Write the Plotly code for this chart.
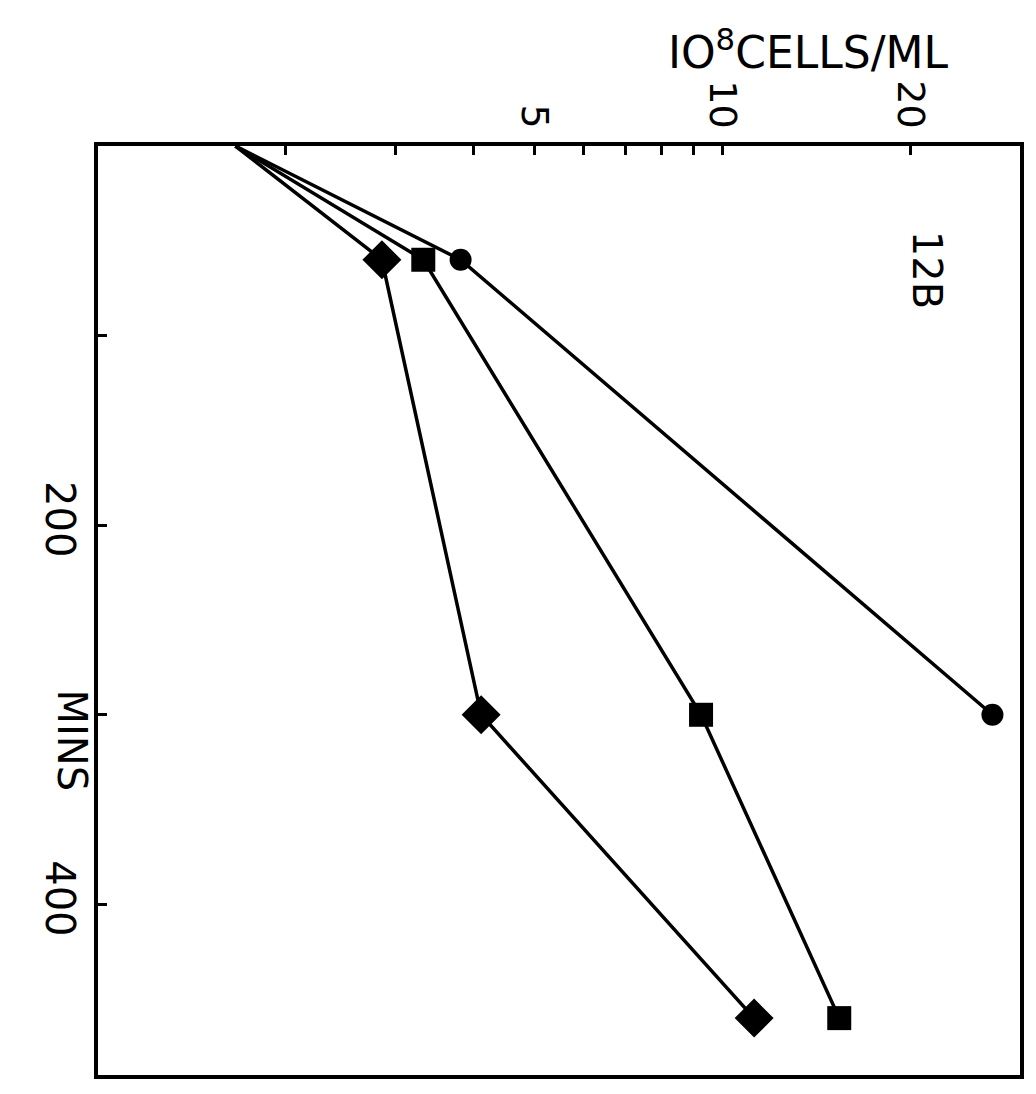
import plotly.graph_objects as go
import numpy as np

# Data (time in minutes, cells in 10^8/ml)
t_circle = [0, 60, 300]
v_circle = [1.66, 3.81, 27.1]
t_square = [0, 60, 300, 460]
v_square = [1.66, 3.32, 9.25, 15.4]
t_diamond = [0, 60, 300, 460]
v_diamond = [1.66, 2.85, 4.11, 11.25]

cell_tickvals = [2, 3, 4, 5, 6, 7, 8, 9, 10, 20]
cell_ticktext = ["", "", "", "5", "", "", "", "", "10", "20"]
min_tickvals = [100, 200, 300, 400]
min_ticktext = ["", "200", "", "400"]

FONT = "DejaVu Sans"

fig = go.Figure()

def add_series(t, v, symbol, size):
    sizes = [0] + [size] * (len(t) - 1)
    fig.add_trace(go.Scatter(
        x=v, y=t, mode="lines+markers",
        line=dict(color="#000000", width=3.5),
        marker=dict(symbol=symbol, size=sizes, color="#000000", opacity=1,
                    line=dict(width=0, color="#000000")),
        opacity=1,
        showlegend=False,
    ))

add_series(t_circle, v_circle, "circle", 22)
add_series(t_square, v_square, "square", 24)
add_series(t_diamond, v_diamond, "diamond", 30)

fig.update_xaxes(
    type="log", range=[0, np.log10(30)], side="top",
    tickvals=cell_tickvals, ticktext=cell_ticktext,
    ticks="inside", ticklen=9, tickwidth=3, tickcolor="black",
    tickangle=90, tickfont=dict(family=FONT, size=38, color="black"),
    showline=True, linewidth=4, linecolor="black", mirror=True,
    showgrid=False, zeroline=False,
)
fig.update_yaxes(
    range=[490, 0],
    tickvals=min_tickvals, ticktext=min_ticktext,
    ticks="inside", ticklen=9, tickwidth=3, tickcolor="black",
    tickangle=90, tickfont=dict(family=FONT, size=40, color="black"),
    showline=True, linewidth=4, linecolor="black", mirror=True,
    showgrid=False, zeroline=False,
)

fig.add_annotation(
    text="IO<sup>8</sup>CELLS/ML", xref="paper", yref="paper",
    x=0.77, y=1.0, yshift=66, xanchor="center", yanchor="bottom",
    showarrow=False, font=dict(family=FONT, size=44, color="black"),
)
fig.add_annotation(
    text="MINS", xref="paper", yref="paper",
    x=0.0, y=0.36, xshift=-26, xanchor="center", yanchor="middle",
    textangle=90, showarrow=False,
    font=dict(family=FONT, size=40, color="black"),
)
fig.add_annotation(
    text="12B", xref="paper", yref="paper",
    x=0.9, y=0.867, xanchor="center", yanchor="middle",
    textangle=90, showarrow=False,
    font=dict(family=FONT, size=40, color="black"),
)

fig.update_layout(
    template="none",
    width=1036, height=1094,
    margin=dict(l=98, r=16, t=146, b=19),
    paper_bgcolor="white", plot_bgcolor="white",
)

fig.write_html("out.html")
